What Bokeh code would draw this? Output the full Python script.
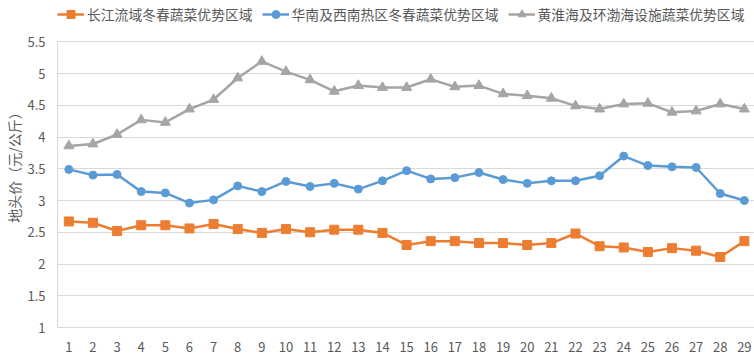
from bokeh.plotting import figure
from bokeh.models import Legend, LegendItem, FixedTicker, Range1d
from bokeh.embed import file_html
from bokeh.resources import INLINE

periods = list(range(1, 30))
series_names = ["长江流域冬春蔬菜优势区域", "华南及西南热区冬春蔬菜优势区域", "黄淮海及环渤海设施蔬菜优势区域"]
changjiang = [2.67, 2.65, 2.52, 2.61, 2.61, 2.56, 2.63, 2.55, 2.49, 2.55,
              2.50, 2.54, 2.54, 2.49, 2.30, 2.36, 2.36, 2.33, 2.33, 2.30,
              2.33, 2.48, 2.28, 2.26, 2.19, 2.25, 2.21, 2.11, 2.36]
huanan = [3.49, 3.40, 3.41, 3.14, 3.12, 2.96, 3.01, 3.23, 3.14, 3.30,
          3.22, 3.27, 3.18, 3.31, 3.47, 3.34, 3.36, 3.44, 3.33, 3.27,
          3.31, 3.31, 3.39, 3.70, 3.55, 3.53, 3.52, 3.11, 3.00]
huanghuaihai = [3.86, 3.89, 4.04, 4.27, 4.23, 4.44, 4.59, 4.93, 5.19, 5.03,
                4.90, 4.72, 4.81, 4.78, 4.78, 4.91, 4.79, 4.81, 4.68, 4.65,
                4.61, 4.49, 4.44, 4.52, 4.53, 4.39, 4.41, 4.52, 4.44]
y_ticks = [1, 1.5, 2, 2.5, 3, 3.5, 4, 4.5, 5, 5.5]
y_tick_labels = ["1", "1.5", "2", "2.5", "3", "3.5", "4", "4.5", "5", "5.5"]
y_label = "地头价（元/公斤）"

TXT = "#595959"
GRID = "#D9D9D9"
FONT = "Noto Sans CJK SC"
colors = ["#ED7D31", "#5B9BD5", "#A5A5A5"]
markers = ["square", "circle", "triangle"]
sizes = [9, 8, 10]
data = [changjiang, huanan, huanghuaihai]

# frame reaches the top of the canvas so the legend (drawn in the frame) is visible;
# the value axis itself stops at 5.5
p = figure(width=754, height=355, output_backend="svg", toolbar_location=None,
           x_range=Range1d(0.53, 29.42), y_range=Range1d(1, 6.15),
           min_border_left=57, min_border_right=0, min_border_top=0, min_border_bottom=28)
p.outline_line_color = None
p.background_fill_color = "white"

p.xaxis.ticker = FixedTicker(ticks=periods)
p.yaxis.ticker = FixedTicker(ticks=y_ticks)
p.yaxis.bounds = (y_ticks[0], y_ticks[-1])
p.yaxis.major_label_overrides = {t: l for t, l in zip(y_ticks, y_tick_labels)}
for ax in (p.xaxis, p.yaxis):
    ax.axis_line_color = GRID
    ax.major_tick_line_color = None
    ax.minor_tick_line_color = None
    ax.major_label_text_color = TXT
    ax.major_label_text_font = FONT
    ax.major_label_text_font_size = "13px"
p.xaxis.major_label_standoff = 8
p.yaxis.major_label_standoff = 6
p.yaxis.axis_label = y_label
p.yaxis.axis_label_text_font = FONT
p.yaxis.axis_label_text_font_size = "14px"
p.yaxis.axis_label_text_font_style = "normal"
p.yaxis.axis_label_text_color = TXT
p.yaxis.axis_label_standoff = 0
p.xgrid.grid_line_color = None
p.ygrid.grid_line_color = GRID
p.ygrid.grid_line_width = 1

items = []
for name, ys, c, m, s in zip(series_names, data, colors, markers, sizes):
    l = p.line(periods, ys, line_color=c, line_width=2.5)
    sc = p.scatter(periods, ys, marker=m, size=s, fill_color=c, line_color=c)
    items.append(LegendItem(label=name, renderers=[l, sc]))

legend = Legend(items=items, orientation="horizontal", location=(0, 303),
                glyph_width=27, glyph_height=20, label_standoff=3, spacing=9,
                padding=0, margin=0, border_line_color=None,
                background_fill_alpha=0,
                label_text_font=FONT, label_text_font_size="13.8px",
                label_text_color=TXT)
p.add_layout(legend, "center")

open("out.html", "w").write(file_html(p, INLINE))
